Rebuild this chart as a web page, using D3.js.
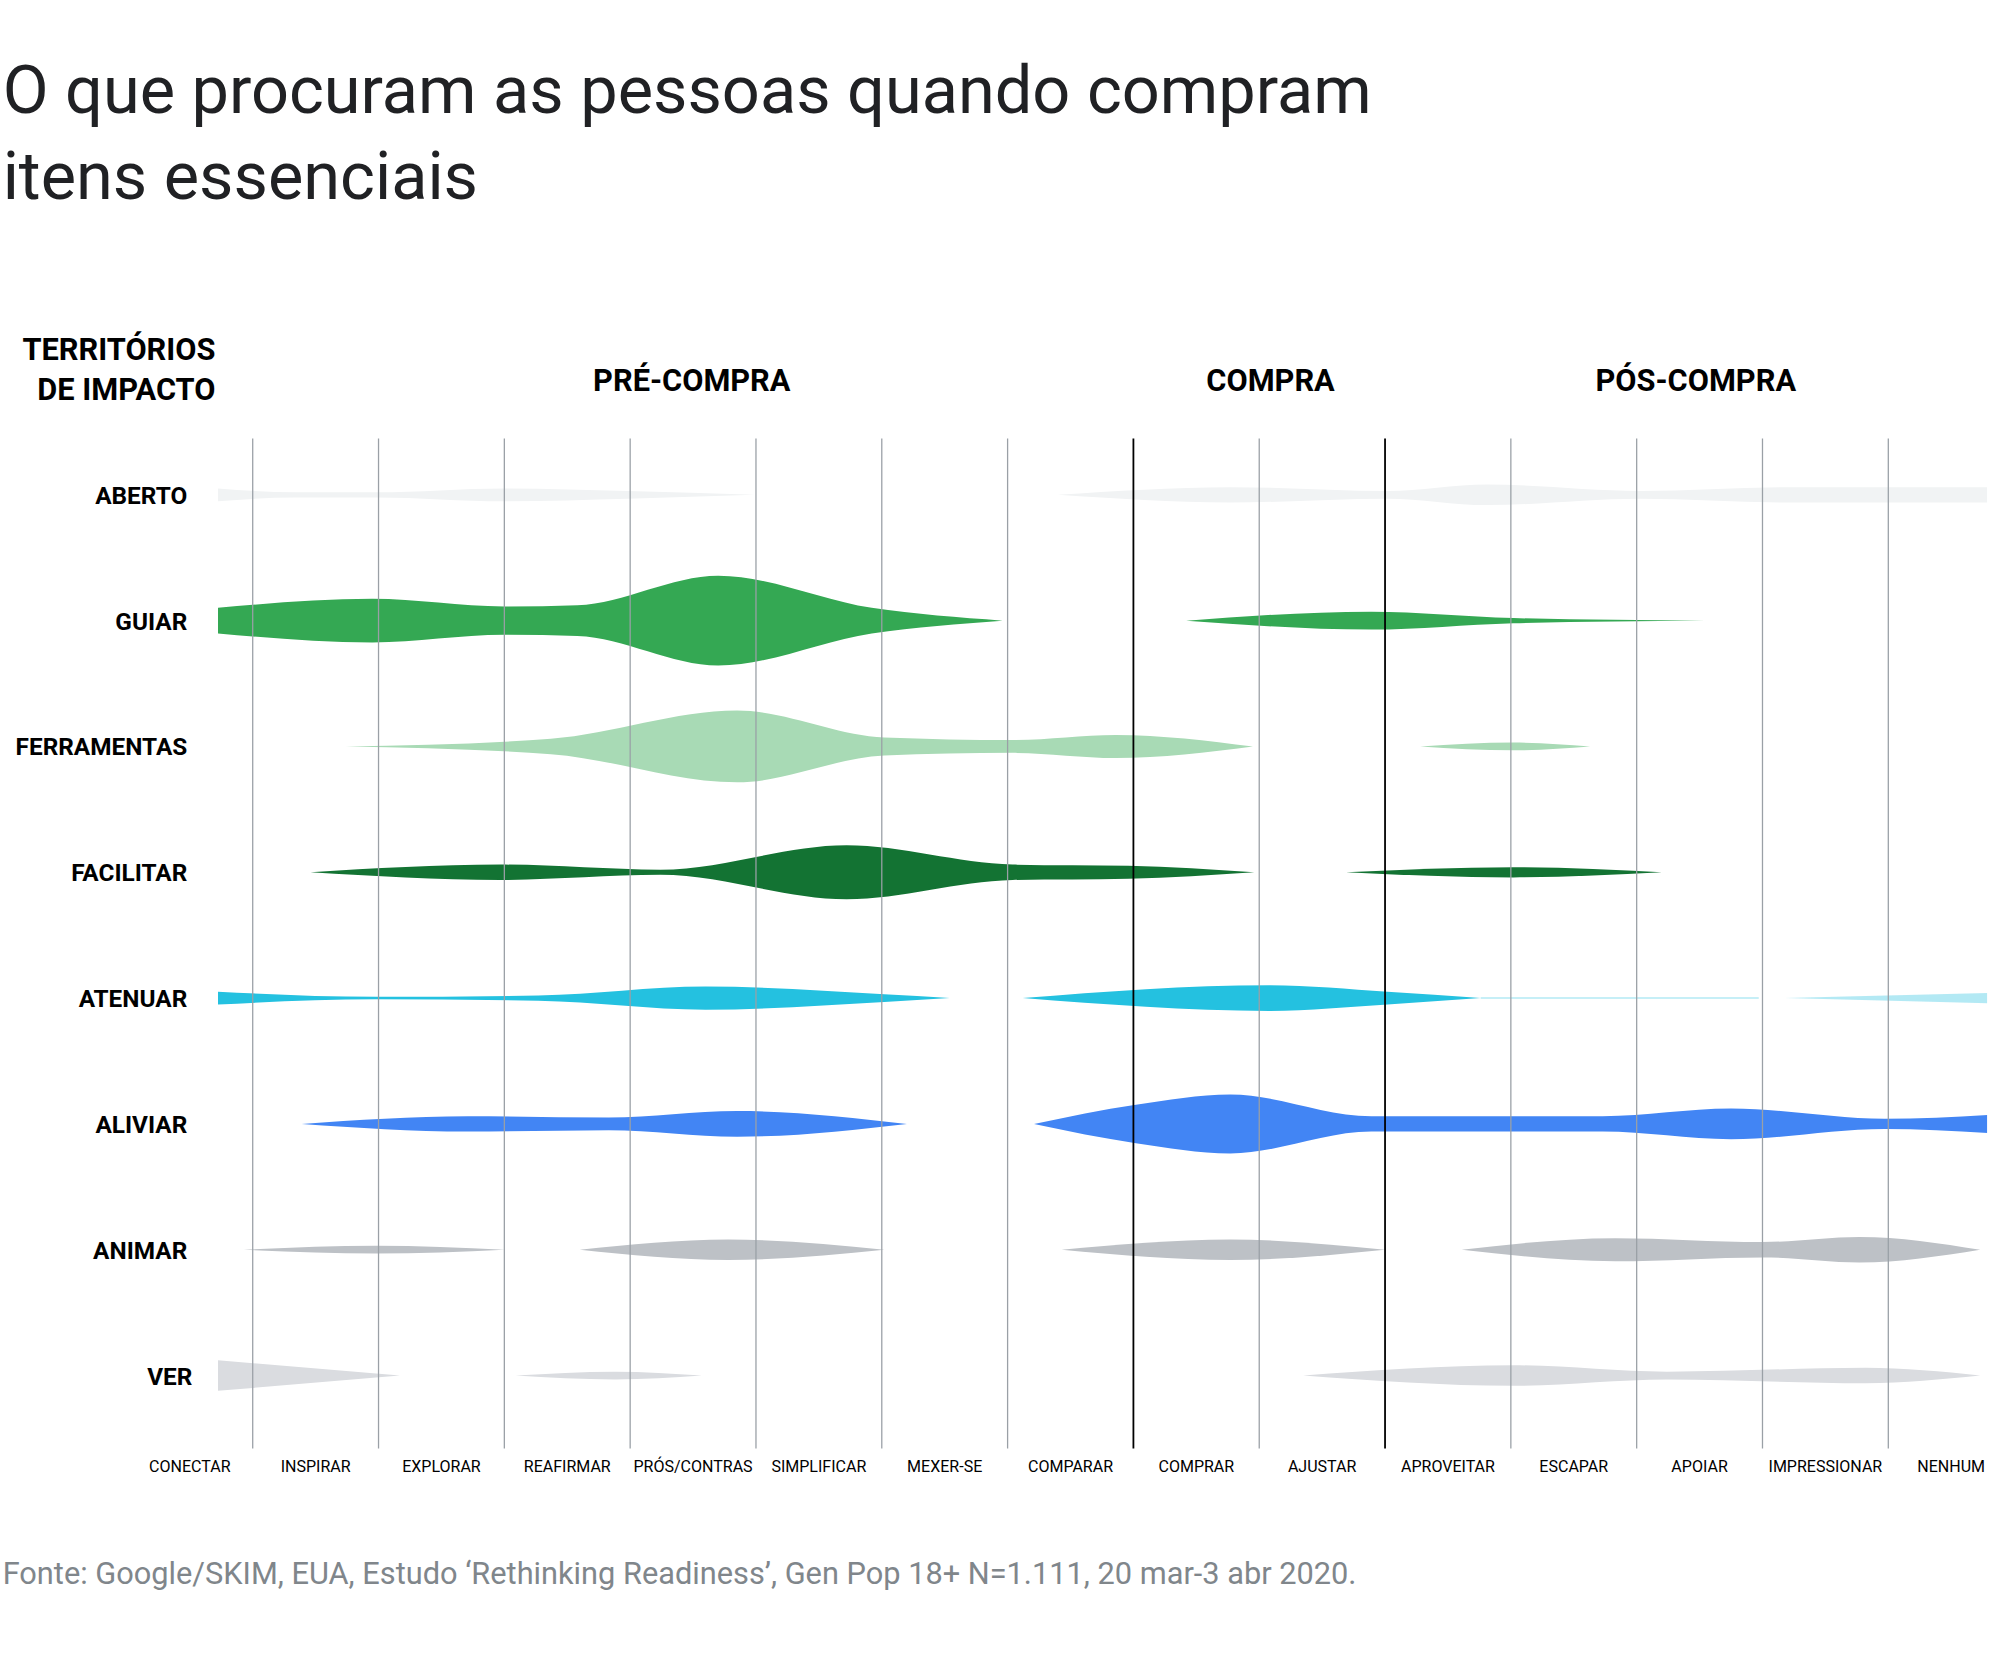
<!DOCTYPE html>
<html>
<head>
<meta charset="utf-8">
<script src="https://cdn.jsdelivr.net/npm/d3@7"></script>
<style>
  body { margin: 0; background: #fff; }
  text { font-family: Roboto, "Open Sans", sans-serif; }
</style>
</head>
<body>
<svg id="chart" width="2000" height="1655" viewBox="0 0 1560 1291"></svg>
<script>
// columns (stages of the journey)
var columns = ["CONECTAR", "INSPIRAR", "EXPLORAR", "REAFIRMAR", "PRÓS/CONTRAS", "SIMPLIFICAR",
               "MEXER-SE", "COMPARAR", "COMPRAR", "AJUSTAR", "APROVEITAR", "ESCAPAR",
               "APOIAR", "IMPRESSIONAR", "NENHUM"];
var phases = [["PRÉ-COMPRA", 3.99], ["COMPRA", 8.59], ["PÓS-COMPRA", 11.97]];
var rows = ["ABERTO", "GUIAR", "FERRAMENTAS", "FACILITAR", "ATENUAR", "ALIVIAR", "ANIMAR", "VER"];
var colors = ["#f1f3f4", "#34a853", "#a8dab5", "#137333", "#24c1e0", "#4285f4", "#bdc1c6", "#dadce0"];
var darkDividers = [7.5, 9.5];

// violin half-widths: each row has segments of [column position, half-width]
var aberto = [
  [[0.22, 5], [0.84, 2], [1.48, 2], [2.5, 5], [3.48, 3], [4.49, 0]],
  [[6.9, 0], [8.27, 6], [9.52, 3], [10.31, 8], [11.53, 3], [12.76, 6], [14.29, 6]]
];
var guiar = [
  [[0.22, 10], [1.45, 17], [2.5, 11], [3.08, 12], [4.2, 35], [5.42, 10], [6.46, 0]],
  [[7.92, 0], [9.39, 7], [10.52, 2], [12.04, 0]]
];
var ferramentas = [
  [[1.24, 0], [2.87, 6], [4.35, 28], [5.52, 7], [6.54, 5], [7.36, 9], [8.45, 0]],
  [[9.78, 0], [10.52, 3], [11.13, 0]]
];
var facilitar = [
  [[0.96, 0], [2.47, 6], [3.74, 2], [5.22, 21], [6.54, 6], [7.46, 5], [8.46, 0]],
  [[9.19, 0], [10.52, 4], [11.7, 0]]
];
var atenuar = [
  [[0.22, 5], [1.48, 1], [2.77, 2], [4.1, 9], [5.52, 3], [6.04, 0]],
  [[6.62, 0], [8.58, 10], [9.52, 5], [10.26, 0]],
  [[10.26, 0.6], [12.47, 0.6]],
  [[12.68, 0], [14.29, 4]]
];
var aliviar = [
  [[0.89, 0], [2.21, 6], [3.33, 5], [4.35, 10], [5.7, 0]],
  [[6.71, 0], [7.52, 15], [8.27, 23], [9.39, 6], [11.23, 6], [12.25, 12], [13.47, 4], [14.29, 7]]
];
var animar = [
  [[0.43, 0], [1.48, 3], [2.5, 0]],
  [[3.1, 0], [4.28, 8], [5.52, 0]],
  [[6.93, 0], [8.27, 8], [9.5, 0]],
  [[10.11, 0], [11.33, 9], [12.5, 6], [13.27, 10], [14.23, 0]]
];
var ver = [
  [[0.22, 12], [1.67, 0]],
  [[2.59, 0], [3.38, 3], [4.07, 0]],
  [[8.85, 0], [10.52, 8], [11.74, 3], [13.32, 6], [14.23, 0]]
];
var series = [aberto, guiar, ferramentas, facilitar, atenuar, aliviar, animar, ver];

var svg = d3.select("#chart");
var ink = "#202124";

// title
svg.append("text").attr("x", 2).attr("y", 88).attr("font-size", 52).attr("fill", ink)
   .text("O que procuram as pessoas quando compram");
svg.append("text").attr("x", 2).attr("y", 155).attr("font-size", 52).attr("fill", ink)
   .text("itens essenciais");

var x = d3.scaleLinear().domain([0, 14]).range([148, 1522]);
var y = d3.scalePoint().domain(rows).range([386, 1073]);
var w = d3.scaleLinear().domain([0, 1]).range([0, 1]);

// header
svg.append("text").attr("x", 168).attr("y", 281).attr("text-anchor", "end")
   .attr("font-size", 24).attr("font-weight", 700).attr("fill", "#000").text("TERRITÓRIOS");
svg.append("text").attr("x", 168).attr("y", 312).attr("text-anchor", "end")
   .attr("font-size", 24).attr("font-weight", 700).attr("fill", "#000").text("DE IMPACTO");
svg.selectAll(".phase").data(phases).enter().append("text")
   .attr("x", function (d) { return x(d[1]); }).attr("y", 305)
   .attr("text-anchor", "middle").attr("font-size", 24).attr("font-weight", 700)
   .attr("fill", "#000").text(function (d) { return d[0]; });

// violins, clipped to the plot span
svg.append("clipPath").attr("id", "plotclip").append("rect")
   .attr("x", 170).attr("y", 330).attr("width", 1380).attr("height", 800);

var area = d3.area()
    .x(function (d) { return x(d[0]); })
    .curve(d3.curveMonotoneX);

var g = svg.append("g").attr("clip-path", "url(#plotclip)");
series.forEach(function (segs, i) {
    var cy = y(rows[i]);
    area.y0(function (d) { return cy + w(d[1]); })
        .y1(function (d) { return cy - w(d[1]); });
    segs.forEach(function (s) {
        g.append("path").attr("d", area(s)).attr("fill", colors[i])
         .attr("opacity", (i == 4 && s.length == 2 && s[0][1] < 1) ? 0.35 : 1);
    });
});

// vertical grid lines between columns
var bounds = d3.range(0.5, 14, 1);
svg.selectAll(".vline").data(bounds).enter().append("line")
   .attr("x1", function (d) { return x(d); }).attr("x2", function (d) { return x(d); })
   .attr("y1", 342).attr("y2", 1130)
   .attr("stroke", function (d) { return darkDividers.indexOf(d) >= 0 ? "#000" : "#9aa0a6"; })
   .attr("stroke-width", function (d) { return darkDividers.indexOf(d) >= 0 ? 1.4 : 1; });

// row labels
svg.selectAll(".rowlab").data(rows).enter().append("text")
   .attr("x", function (d) { return d == "VER" ? 150 : 146; })
   .attr("y", function (d) { return y(d) + 7; })
   .attr("text-anchor", "end").attr("font-size", 19).attr("font-weight", 700)
   .attr("fill", "#000").text(function (d) { return d; });

// column labels
svg.selectAll(".collab").data(columns).enter().append("text")
   .attr("x", function (d, i) { return x(i); }).attr("y", 1148)
   .attr("text-anchor", "middle").attr("font-size", 12.5).attr("fill", "#000")
   .text(function (d) { return d; });

// source
svg.append("text").attr("x", 2).attr("y", 1236).attr("font-size", 24).attr("fill", "#80868b")
   .text("Fonte: Google/SKIM, EUA, Estudo ‘Rethinking Readiness’, Gen Pop 18+ N=1.111, 20 mar-3 abr 2020.");
</script>
</body>
</html>
